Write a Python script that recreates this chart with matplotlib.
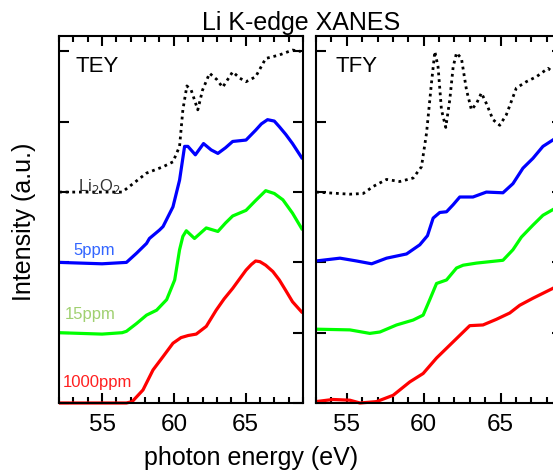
import matplotlib
matplotlib.use("Agg")
import matplotlib.pyplot as plt
from matplotlib.ticker import MultipleLocator

plt.rcParams['font.family'] = ['Liberation Sans', 'DejaVu Sans']

# ---------------- data ----------------
# TEY (offsets: Li2O2 3, 5ppm 2, 15ppm 1, 1000ppm 0)
tey_li2o2_e = [52, 56.4, 57.16, 58.1, 59.25, 59.94, 60.4, 60.63, 60.91, 61.21, 61.67, 62.0,
               62.49, 63.0, 63.4, 64.1, 64.6, 65.03, 65.7, 66.4, 67.35, 68.27, 68.85]
tey_li2o2_v = [0, 0, 0.12, 0.27, 0.36, 0.43, 0.65, 1.17, 1.51, 1.45, 1.17, 1.45,
               1.69, 1.60, 1.49, 1.71, 1.62, 1.57, 1.64, 1.90, 1.95, 2.02, 2.0]

tey_5_e = [52, 55, 56.7, 57.4, 58.1, 58.3, 59.0, 59.25, 59.94, 60.4, 60.75, 60.98, 61.5,
           62.07, 62.6, 63.07, 63.6, 64.1, 65.03, 65.7, 66.1, 66.53, 67.0, 67.35, 67.8, 68.27, 68.97]
tey_5_v = [0, -0.02, 0, 0.13, 0.27, 0.34, 0.46, 0.51, 0.79, 1.17, 1.65, 1.65, 1.53,
           1.69, 1.60, 1.55, 1.63, 1.72, 1.74, 1.88, 1.97, 2.03, 2.01, 1.93, 1.82, 1.69, 1.47]

tey_15_e = [52, 55, 56.4, 56.7, 57.4, 58.1, 58.8, 59.5, 60.06, 60.4, 60.63, 60.87, 61.44,
            62.26, 63.07, 63.6, 64.1, 65.03, 65.7, 66.4, 67.0, 67.6, 68.27, 68.97]
tey_15_v = [0, -0.02, 0, 0.02, 0.13, 0.25, 0.32, 0.47, 0.75, 1.18, 1.37, 1.45, 1.34,
            1.49, 1.44, 1.56, 1.66, 1.74, 1.88, 2.02, 1.98, 1.89, 1.70, 1.46]

tey_1000_e = [52, 56.7, 57.1, 57.85, 58.55, 59.25, 59.94, 60.5, 61.0, 61.56, 62.26, 62.95, 63.5,
              64.1, 64.6, 65.03, 65.4, 65.7, 66.0, 66.4, 66.9, 67.35, 67.8, 68.27, 68.97]
tey_1000_v = [0, 0, 0.02, 0.185, 0.47, 0.66, 0.85, 0.93, 0.96, 0.98, 1.09, 1.32, 1.48,
              1.63, 1.77, 1.89, 1.97, 2.02, 2.01, 1.96, 1.87, 1.75, 1.60, 1.44, 1.28]

# TFY
tfy_li2o2_e = [53, 55.2, 56.07, 56.72, 57.59, 58.45, 59.32, 59.86, 60.19, 60.51, 60.73, 60.94,
               61.16, 61.44, 61.7, 61.92, 62.14, 62.46, 62.79, 63.11, 63.44, 63.76, 64.08,
               64.51, 64.95, 65.38, 66.03, 66.68, 67.33, 68.09, 68.4, 68.8]
tfy_li2o2_v = [0, -0.03, -0.02, 0.08, 0.18, 0.15, 0.20, 0.36, 0.84, 1.55, 2.0, 1.78,
               1.17, 0.92, 1.31, 1.78, 1.98, 1.90, 1.45, 1.17, 1.26, 1.41, 1.26,
               1.03, 0.95, 1.10, 1.48, 1.57, 1.64, 1.76, 1.71, 1.74]

tfy_5_e = [53, 54.56, 55.64, 56.62, 57.59, 58.89, 59.75, 60.25, 60.62, 61.05, 61.49, 61.92,
           62.35, 63.21, 64.08, 65.16, 65.81, 66.46, 67.11, 67.76, 68.4, 68.8]
tfy_5_v = [0.02, 0.06, 0.02, -0.02, 0.06, 0.12, 0.25, 0.38, 0.63, 0.71, 0.72, 0.82,
           0.93, 0.93, 1.0, 0.99, 1.12, 1.34, 1.48, 1.65, 1.74, 1.80]

tfy_15_e = [53, 55.2, 56.5, 57.16, 58.24, 59.32, 59.97, 60.4, 60.84, 61.49, 62.14, 62.57,
            63.44, 64.3, 65.16, 65.81, 66.36, 67.11, 67.76, 68.4, 68.8]
tfy_15_v = [0.05, 0.04, -0.01, 0.01, 0.11, 0.18, 0.25, 0.47, 0.70, 0.75, 0.92, 0.96,
            0.99, 1.01, 1.03, 1.18, 1.36, 1.53, 1.67, 1.75, 1.80]

tfy_1000_e = [53, 54.1, 55.2, 55.86, 56.94, 58.02, 59.1, 59.97, 60.84, 61.92, 63.0, 63.86,
              64.73, 65.6, 66.25, 67.11, 68.4, 68.8]
tfy_1000_v = [0.02, 0.05, 0.04, 0.0, 0.02, 0.11, 0.30, 0.42, 0.64, 0.87, 1.10, 1.11,
              1.19, 1.28, 1.39, 1.49, 1.63, 1.68]

sample_labels = ["Li$_2$O$_2$", "5ppm", "15ppm", "1000ppm"]
offsets = [3, 2, 1, 0]
line_colors = ["black", "#0000ff", "#00ff00", "#ff0000"]
label_colors = ["#333333", "#3366ff", "#a0d070", "#ff2020"]
xticks = [55, 60, 65]
panel_titles = ["TEY", "TFY"]

tey = [(tey_li2o2_e, tey_li2o2_v), (tey_5_e, tey_5_v), (tey_15_e, tey_15_v), (tey_1000_e, tey_1000_v)]
tfy = [(tfy_li2o2_e, tfy_li2o2_v), (tfy_5_e, tfy_5_v), (tfy_15_e, tfy_15_v), (tfy_1000_e, tfy_1000_v)]

# ---------------- figure ----------------
W, H = 553, 471
fig = plt.figure(figsize=(W / 100, H / 100), dpi=100)

def px_axes(x0, x1, ytop, ybot):
    return fig.add_axes([x0 / W, 1 - ybot / H, (x1 - x0) / W, (ybot - ytop) / H])

ax1 = px_axes(59, 303, 36, 403)
ax2 = px_axes(316, 562, 36, 403)

for ax, data, xlim, title, tx in [(ax1, tey, (52, 69), panel_titles[0], 75),
                                  (ax2, tfy, (53, 69), panel_titles[1], 335)]:
    for i, (e, v) in enumerate(data):
        yy = [val + offsets[i] for val in v]
        if i == 0:
            ax.plot(e, yy, color=line_colors[i], lw=2.0, linestyle=(0, (1, 1.4)), clip_on=False)
        else:
            ax.plot(e, yy, color=line_colors[i], lw=2.3, solid_capstyle='butt',
                    solid_joinstyle='round', clip_on=False)
    ax.set_xlim(*xlim)
    ax.set_ylim(0, 5.22)
    ax.set_xticks(xticks)
    ax.xaxis.set_minor_locator(MultipleLocator(1))
    ax.set_yticks([0, 1, 2, 3, 4, 5])
    ax.set_yticklabels([])
    ax.tick_params(axis='both', which='major', direction='in', length=7.5, width=1.5,
                   top=True, right=True, labelsize=17.5, pad=8)
    ax.tick_params(axis='both', which='minor', direction='in', length=4.5, width=1.5,
                   top=True, right=True)
    for s in ax.spines.values():
        s.set_linewidth(1.5)
    fig.text(tx / W, 1 - 67 / H, title, fontsize=16, va='center', ha='left')

# sample labels on TEY panel
label_pos = [(78, 186), (73, 250), (65, 315), (63, 382)]
for (lx, ly), lab, col in zip(label_pos, sample_labels, label_colors):
    fig.text(lx / W, 1 - ly / H, lab, color=col, fontsize=12, va='center', ha='left')

fig.text(301 / W, 1 - 23 / H, "Li K-edge XANES", fontsize=18, ha='center', va='center')
fig.text(251 / W, 1 - 458 / H, "photon energy (eV)", fontsize=18, ha='center', va='center')
fig.text(24 / W, 1 - 222 / H, "Intensity (a.u.)", fontsize=18, ha='center', va='center',
         rotation=90)

fig.savefig("out.png", dpi=100)
